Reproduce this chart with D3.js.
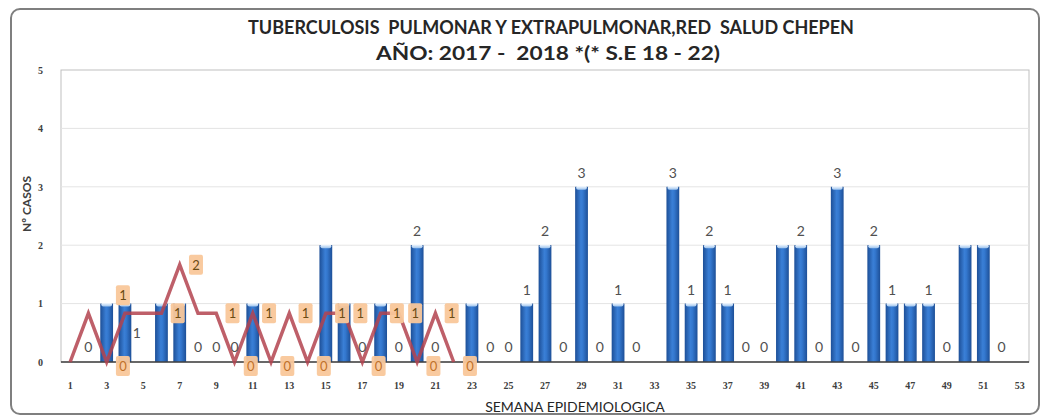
<html>
<head>
<meta charset="utf-8" />
<script src="https://cdnjs.cloudflare.com/ajax/libs/d3/7.8.5/d3.min.js"></script>
<style>
	body { margin: 0; background: #fff; }
	text { font-family: Lato, "Open Sans", sans-serif; }
</style>
</head>
<body>
<div id="chart"></div>
<script>

// semanas epidemiologicas 1..53
var weeks = d3.range(1, 54);

// 2017 (barras), null = sin barra ni etiqueta
var casos2017 = [null,0,1,1,null,1,1,0,0,0,
                 1,null,null,null,2,1,0,1,0,2,
                 0,null,1,0,0,1,2,0,3,0,
                 1,0,null,3,1,2,1,0,0,2,
                 2,0,3,0,2,1,1,1,0,2,
                 2,0,null];

// 2018 (linea) S.E 1..22
var casos2018 = [0,1,0,1,1,1,2,1,1,0,1,0,1,0,1,1,0,1,1,0,1,0];

// etiquetas naranjas de la linea, como aparecen en el grafico
var lab2018Weeks  = [4,4,7,8,10,11,12,13,14,15,16,17,18,19,20,21,22,23];
var lab2018Values = [1,0,1,2,1,0,1,0,1,0,1,1,0,1,1,0,1,0];

// barras cuya etiqueta no se ve
var barLabelOff = [3,6,7,11,15,16,18,23,40,47,50,51];

var yTicks = [0,1,2,3,4,5];
var xTicks = weeks.filter(function(w){ return w % 2 == 1; });

var W = 1044, H = 419;
var pLeft = 61, pRight = 1029, pTop = 70, pBottom = 362;

var svg = d3.select("#chart").append("svg")
	.attr("width", W).attr("height", H);

var defs = svg.append("defs");
var g1 = defs.append("linearGradient").attr("id", "barGrad")
	.attr("x1", "0").attr("x2", "1").attr("y1", "0").attr("y2", "0");
g1.append("stop").attr("offset", "0").attr("stop-color", "#1d4f97");
g1.append("stop").attr("offset", "0.45").attr("stop-color", "#3a7fd6");
g1.append("stop").attr("offset", "0.6").attr("stop-color", "#3478cf");
g1.append("stop").attr("offset", "1").attr("stop-color", "#1d4f97");
var g2 = defs.append("linearGradient").attr("id", "capGrad")
	.attr("x1", "0").attr("x2", "0").attr("y1", "0").attr("y2", "1");
g2.append("stop").attr("offset", "0").attr("stop-color", "#ffffff");
g2.append("stop").attr("offset", "1").attr("stop-color", "#9cc3ee");

// marco exterior
svg.append("rect")
	.attr("x", 11).attr("y", 9).attr("width", 1028).attr("height", 405)
	.attr("rx", 9)
	.style("fill", "#fff").style("stroke", "#7f7f7f").style("stroke-width", 2);

var x = d3.scaleBand().domain(weeks).range([pLeft, pRight]).paddingInner(0.3).paddingOuter(0.15);
var y = d3.scaleLinear().domain([0, 5]).range([pBottom, pTop]);
var y2 = d3.scaleLinear().domain([0, 6]).range([pBottom, pTop]);
function cx(w){ return x(w) + x.bandwidth()/2; }

// area de trazado
svg.append("rect")
	.attr("x", pLeft).attr("y", pTop).attr("width", pRight-pLeft).attr("height", pBottom-pTop)
	.style("fill", "#fff").style("stroke", "#bfbfbf").style("stroke-width", 1);

svg.append("g").selectAll("line")
	.data(yTicks.slice(1, 5))
	.enter().append("line")
	.attr("x1", pLeft).attr("x2", pRight)
	.attr("y1", function(d){ return y(d); }).attr("y2", function(d){ return y(d); })
	.style("stroke", "#e4e4e4").style("stroke-width", 1);

// ejes
var yAxis = svg.append("g")
	.attr("transform", "translate(" + (pLeft - 15) + ",0)")
	.call(d3.axisLeft(y).tickValues(yTicks).tickSize(0).tickFormat(d3.format("d")));
yAxis.select(".domain").remove();
yAxis.selectAll("text")
	.style("font-family", "'Liberation Serif', serif").style("font-weight", "bold")
	.style("font-size", "10px").style("fill", "#404040");

var xAxis = svg.append("g")
	.attr("transform", "translate(0," + (pBottom + 17) + ")")
	.call(d3.axisBottom(x).tickValues(xTicks).tickSize(0));
xAxis.select(".domain").remove();
xAxis.selectAll("text")
	.style("font-family", "'Liberation Serif', serif").style("font-weight", "bold")
	.style("font-size", "10px").style("fill", "#404040");

// barras 2017
var bars = weeks.map(function(w, i){ return {w: w, v: casos2017[i]}; });
var barG = svg.append("g");
barG.selectAll("rect.bar")
	.data(bars.filter(function(d){ return d.v > 0; }))
	.enter().append("rect")
	.attr("class", "bar")
	.attr("x", function(d){ return x(d.w); })
	.attr("y", function(d){ return y(d.v); })
	.attr("width", x.bandwidth())
	.attr("height", function(d){ return y(0) - y(d.v); })
	.style("fill", "url(#barGrad)");
barG.selectAll("rect.cap")
	.data(bars.filter(function(d){ return d.v > 0; }))
	.enter().append("rect")
	.attr("class", "cap")
	.attr("x", function(d){ return x(d.w) + 1; })
	.attr("y", function(d){ return y(d.v) - 1; })
	.attr("width", x.bandwidth() - 2)
	.attr("height", 4)
	.attr("rx", 2)
	.style("fill", "url(#capGrad)");

// linea del eje x
svg.append("line")
	.attr("x1", pLeft).attr("x2", pRight).attr("y1", pBottom).attr("y2", pBottom)
	.style("stroke", "#404040").style("stroke-width", 1.5);

// linea 2018 (eje secundario 0-6)
var line = d3.line()
	.x(function(d, i){ return cx(i + 1); })
	.y(function(d){ return y2(d); });
svg.append("path")
	.datum(casos2018)
	.attr("d", line)
	.style("fill", "none").style("stroke", "#b3434f").style("stroke-opacity", 0.85)
	.style("stroke-width", 3.5).style("stroke-linejoin", "miter");

// etiquetas de barras
var nudge = {4: [12, 43]};
svg.append("g").selectAll("text")
	.data(bars.filter(function(d){ return d.v != null && barLabelOff.indexOf(d.w) < 0; }))
	.enter().append("text")
	.attr("x", function(d){ return cx(d.w) + (nudge[d.w] ? nudge[d.w][0] : 0); })
	.attr("y", function(d){ return y(d.v) - (d.v > 0 ? 9 : 10) + (nudge[d.w] ? nudge[d.w][1] : 0); })
	.attr("text-anchor", "middle")
	.style("font-size", "14px").style("fill", "#505050")
	.text(function(d){ return d.v; });

// etiquetas naranjas 2018 (si dos caen en la misma semana, la mayor sube)
var labs = lab2018Weeks.map(function(w, i){ return {w: w, v: lab2018Values[i]}; });
var perWeek = d3.rollup(labs, function(v){ return v.length; }, function(d){ return d.w; });
labs.forEach(function(d){
	d.cy = y2(d.v) + (d.v == 0 ? 4 : 0);
	if (perWeek.get(d.w) > 1 && d.v > 0) d.cy -= 18;
});
var lg = svg.append("g").selectAll("g")
	.data(labs).enter().append("g")
	.attr("transform", function(d){ return "translate(" + (cx(d.w) - 2) + "," + d.cy + ")"; });
lg.append("rect")
	.attr("x", -7).attr("y", -10).attr("width", 14).attr("height", 20).attr("rx", 2)
	.style("fill", "#f9c79a").style("opacity", 0.95);
lg.append("text")
	.attr("y", 5).attr("text-anchor", "middle")
	.style("font-size", "13px")
	.style("fill", function(d){ return d.v == 0 ? "#c0712a" : "#6b4a12"; })
	.text(function(d){ return d.v; });

// titulos
svg.append("text")
	.attr("x", 551).attr("y", 34).attr("text-anchor", "middle")
	.attr("textLength", 606).attr("lengthAdjust", "spacingAndGlyphs")
	.style("white-space", "pre")
	.style("font-size", "18px").style("font-weight", "bold").style("fill", "#262626")
	.text("TUBERCULOSIS  PULMONAR Y EXTRAPULMONAR,RED  SALUD CHEPEN");
svg.append("text")
	.attr("x", 548).attr("y", 60).attr("text-anchor", "middle")
	.attr("textLength", 344).attr("lengthAdjust", "spacingAndGlyphs")
	.style("white-space", "pre")
	.style("font-size", "18px").style("font-weight", "bold").style("fill", "#262626")
	.text("AÑO: 2017 -  2018 *(* S.E 18 - 22)");

svg.append("text")
	.attr("transform", "translate(31,204) rotate(-90)")
	.attr("text-anchor", "middle")
	.style("font-size", "12px").style("font-weight", "bold").style("fill", "#404040")
	.text("Nº CASOS");

svg.append("text")
	.attr("x", 575).attr("y", 412).attr("text-anchor", "middle")
	.style("font-size", "14px").style("fill", "#262626")
	.text("SEMANA EPIDEMIOLOGICA");

</script>
</body>
</html>
